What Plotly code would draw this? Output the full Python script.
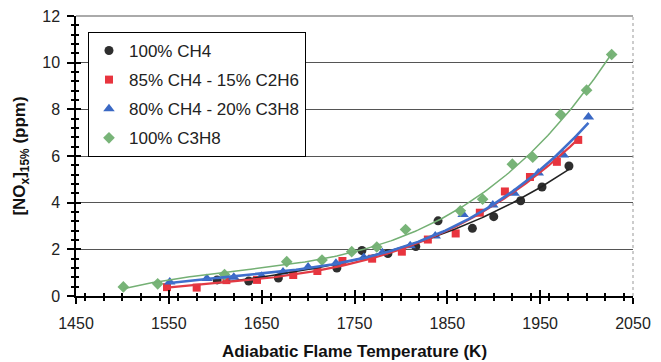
import numpy as np
import plotly.graph_objects as go

# NOx emissions vs. adiabatic flame temperature for four fuel blends
t_ch4 = [1602, 1636, 1668, 1731, 1758, 1786, 1816, 1840, 1877, 1900, 1929, 1952, 1981]
nox_ch4 = [0.69, 0.64, 0.77, 1.2, 1.95, 1.82, 2.12, 3.22, 2.9, 3.4, 4.08, 4.67, 5.57]

t_c2h6 = [1548, 1580, 1612, 1645, 1684, 1710, 1737, 1769, 1801, 1829, 1859, 1885, 1912, 1939, 1968, 1991]
nox_c2h6 = [0.38, 0.36, 0.68, 0.69, 0.9, 1.07, 1.5, 1.6, 1.9, 2.42, 2.68, 3.57, 4.48, 5.1, 5.75, 6.69]

t_c3h8_20 = [1551, 1591, 1620, 1650, 1673, 1700, 1730, 1760, 1780, 1810, 1837, 1867, 1899, 1922, 1948, 1975, 2002]
nox_c3h8_20 = [0.6, 0.75, 0.8, 0.85, 1.03, 1.24, 1.4, 1.65, 1.85, 2.15, 2.57, 3.49, 3.9, 4.4, 5.27, 6.04, 7.67]

t_c3h8 = [1501, 1538, 1610, 1677, 1715, 1747, 1774, 1805, 1864, 1888, 1920, 1942, 1972, 2000, 2027]
nox_c3h8 = [0.39, 0.52, 0.92, 1.47, 1.54, 1.9, 2.1, 2.85, 3.65, 4.15, 5.65, 5.95, 7.78, 8.82, 10.35]

series = [
    ("100% CH4", t_ch4, nox_ch4, "#2e2e2e", "#222222", "circle", 9, 1.5),
    ("85% CH4 - 15% C2H6", t_c2h6, nox_c2h6, "#e8343e", "#e23a44", "square", 8, 2.2),
    ("80% CH4 - 20% C3H8", t_c3h8_20, nox_c3h8_20, "#3a68c4", "#3f6fcc", "triangle-up", 10, 2.6),
    ("100% C3H8", t_c3h8, nox_c3h8, "#78b478", "#74b074", "diamond", 9, 1.5),
]

FONT = "Arial, Liberation Sans, sans-serif"

fig = go.Figure()

for i, (name, t, y, mcol, lcol, sym, msize, lw) in enumerate(series):
    t_arr = np.asarray(t, dtype=float)
    y_arr = np.asarray(y, dtype=float)
    # cubic polynomial trend line (centred temperature for conditioning)
    tc = t_arr - 1750.0
    coef = np.polyfit(tc, y_arr, 3)
    t_fit = np.linspace(t_arr.min(), t_arr.max(), 200)
    fig.add_trace(go.Scatter(
        x=t, y=y, mode="markers", name=name, legendgroup=f"g{i}",
        marker=dict(symbol=sym, size=msize, color=mcol, line=dict(width=0)),
    ))
    fig.add_trace(go.Scatter(
        x=t_fit, y=np.polyval(coef, t_fit - 1750.0), mode="lines", showlegend=False,
        line=dict(color=lcol, width=lw), xaxis="x2", yaxis="y2", hoverinfo="skip",
    ))

tick_font = dict(family=FONT, size=16, color="#222222")

fig.update_layout(
    width=661, height=362,
    margin=dict(l=76, r=28, t=16, b=66),
    paper_bgcolor="white", plot_bgcolor="white",
    showlegend=True,
    legend=dict(
        x=0.0215, y=0.943, xanchor="left", yanchor="top",
        bgcolor="white", bordercolor="black", borderwidth=1,
        font=dict(family=FONT, size=17, color="#222222"),
        tracegroupgap=4, itemwidth=30,
    ),
    xaxis=dict(
        range=[1450, 2050], dtick=100, tick0=1450, automargin=False,
        showgrid=False, zeroline=False,
        showline=True, linecolor="black", linewidth=1.5,
        ticks="outside", ticklen=6, tickcolor="black", tickwidth=1.5,
        minor=dict(dtick=20, ticks="outside", ticklen=3, tickcolor="black", showgrid=False),
        tickfont=tick_font, ticklabelstandoff=6,
        title=dict(text="<b>Adiabatic Flame Temperature (K)</b>",
                   font=dict(family=FONT, size=17, color="#111111"), standoff=14),
    ),
    yaxis=dict(
        range=[0, 12], dtick=2, automargin=False,
        showgrid=True, gridcolor="#555555", gridwidth=1.2, zeroline=False,
        showline=True, linecolor="black", linewidth=1.5,
        ticks="outside", ticklen=7, tickcolor="black", tickwidth=1.5,
        minor=dict(dtick=0.4, ticks="outside", ticklen=3, tickcolor="black", showgrid=False),
        tickfont=tick_font, ticklabelstandoff=4,
        title=dict(text="<b>[NO<sub>x</sub>]<sub>15%</sub> (ppm)</b>",
                   font=dict(family=FONT, size=17, color="#111111"), standoff=12),
    ),
    # overlaid twin axes: carry the trend lines and the inward half of each tick
    xaxis2=dict(
        overlaying="x", anchor="y2", side="bottom", range=[1450, 2050], dtick=100, tick0=1450,
        showgrid=False, zeroline=False, showline=False, showticklabels=False,
        ticks="inside", ticklen=6, tickcolor="black", tickwidth=1.5,
        minor=dict(dtick=20, ticks="inside", ticklen=3, tickcolor="black", showgrid=False),
    ),
    yaxis2=dict(
        overlaying="y", anchor="x2", side="left", range=[0, 12], dtick=2,
        showgrid=False, zeroline=False, showline=False, showticklabels=False,
        ticks="inside", ticklen=5, tickcolor="black", tickwidth=1.5,
        minor=dict(dtick=0.4, ticks="inside", ticklen=3, tickcolor="black", showgrid=False),
    ),
    shapes=[
        dict(type="line", xref="paper", yref="paper", x0=0, x1=1, y0=1, y1=1,
             line=dict(color="#aaaaaa", width=2), layer="above"),
        dict(type="line", xref="paper", yref="paper", x0=1, x1=1, y0=0, y1=1,
             line=dict(color="#999999", width=1, dash="dot"), layer="above"),
    ],
)

fig.write_html("out.html")
